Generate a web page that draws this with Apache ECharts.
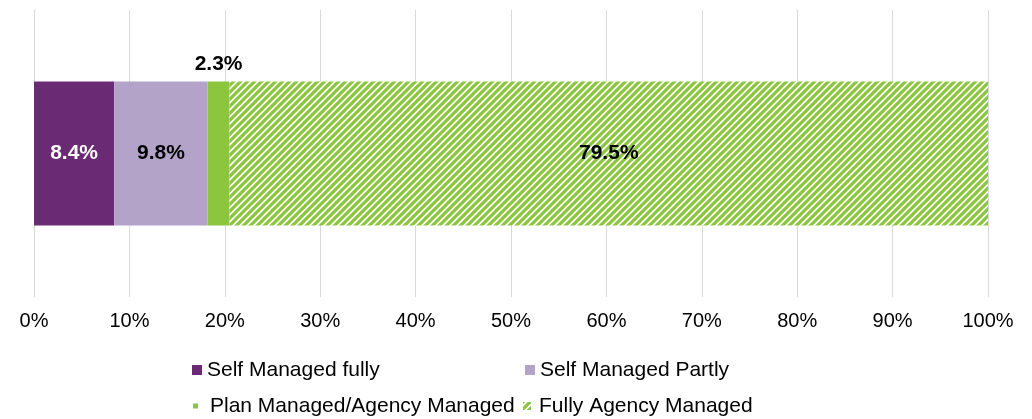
<!DOCTYPE html>
<html>
<head>
<meta charset="utf-8">
<script src="https://cdn.jsdelivr.net/npm/echarts@6/dist/echarts.min.js"></script>
<style>
	html, body { margin: 0; padding: 0; background: #fff; }
	#chart { width: 1032px; height: 419px; }
</style>
</head>
<body>
<div id="chart"></div>
<script>
let categories = ["Management"];
let seriesNames = [
	"Self Managed fully",
	"Self Managed Partly",
	"Plan Managed/Agency Managed",
	"Fully Agency Managed",
];
let selfFully = [8.4];
let selfPartly = [9.8];
let planManaged = [2.3];
let agencyManaged = [79.5];
let tickValues = [0, 10, 20, 30, 40, 50, 60, 70, 80, 90, 100];

let font = "Liberation Sans, Arial, sans-serif";

// diagonal green hatch for the agency managed part
let makeHatch = function () {
	let n = 7;
	let c = document.createElement("canvas");
	c.width = n;
	c.height = n;
	let ctx = c.getContext("2d");
	ctx.fillStyle = "#fff";
	ctx.fillRect(0, 0, n, n);
	ctx.strokeStyle = "#8cc63e";
	ctx.lineWidth = 3.3;
	ctx.beginPath();
	ctx.moveTo(-1, n + 1);
	ctx.lineTo(n + 1, -1);
	ctx.moveTo(-2, 2);
	ctx.lineTo(2, -2);
	ctx.moveTo(n - 2, n + 2);
	ctx.lineTo(n + 2, n - 2);
	ctx.stroke();
	return c;
};
let hatch = { image: makeHatch(), repeat: "repeat" };

let labelStyle = function (color, position) {
	return {
		show: true,
		position: position,
		distance: 7,
		color: color,
		fontFamily: font,
		fontSize: 21,
		fontWeight: "bold",
		formatter: (p) => p.value.toFixed(1) + "%",
	};
};

let legendText = {
	fontFamily: font,
	fontSize: 21,
	color: "#000",
	lineHeight: 22,
};

let legendItem = function (name, left, top, size, pad) {
	return {
		data: [name],
		left: left,
		top: top,
		padding: 0,
		itemWidth: size,
		itemHeight: size,
		selectedMode: false,
		icon: "rect",
		textStyle: Object.assign({}, legendText, { padding: [0, 0, 0, pad || 0] }),
	};
};

let myChart = echarts.init(document.getElementById("chart"));

let option = {
	animation: false,
	grid: {
		left: 34,
		right: 44,
		top: 10,
		bottom: 122,
	},
	xAxis: {
		type: "value",
		min: 0,
		max: 100,
		interval: 10,
		axisLine: { show: false },
		axisTick: { show: false },
		splitLine: { lineStyle: { color: "#d9d9d9", width: 1 } },
		axisLabel: {
			margin: 14,
			fontFamily: font,
			fontSize: 20,
			color: "#000",
			formatter: (v) => (tickValues.indexOf(v) >= 0 ? v + "%" : ""),
		},
	},
	yAxis: {
		type: "category",
		data: categories,
		axisLine: { show: false },
		axisTick: { show: false },
		axisLabel: { show: false },
	},
	legend: [
		legendItem(seriesNames[0], 192, 359, 10),
		legendItem(seriesNames[1], 525, 359, 10),
		legendItem(seriesNames[2], 193, 395, 5, 7),
		legendItem(seriesNames[3], 523, 395, 8, 3),
	],
	series: [
		{
			name: seriesNames[0],
			type: "bar",
			stack: "total",
			barWidth: 144,
			itemStyle: { color: "#6b2a74" },
			label: labelStyle("#fff", "inside"),
			data: selfFully,
		},
		{
			name: seriesNames[1],
			type: "bar",
			stack: "total",
			barWidth: 144,
			itemStyle: { color: "#b3a3c9" },
			label: labelStyle("#000", "inside"),
			data: selfPartly,
		},
		{
			name: seriesNames[2],
			type: "bar",
			stack: "total",
			barWidth: 144,
			itemStyle: { color: "#8cc63e" },
			label: labelStyle("#000", "top"),
			data: planManaged,
		},
		{
			name: seriesNames[3],
			type: "bar",
			stack: "total",
			barWidth: 144,
			itemStyle: { color: hatch },
			label: labelStyle("#000", "inside"),
			data: agencyManaged,
		},
	],
};

myChart.setOption(option);
</script>
</body>
</html>
